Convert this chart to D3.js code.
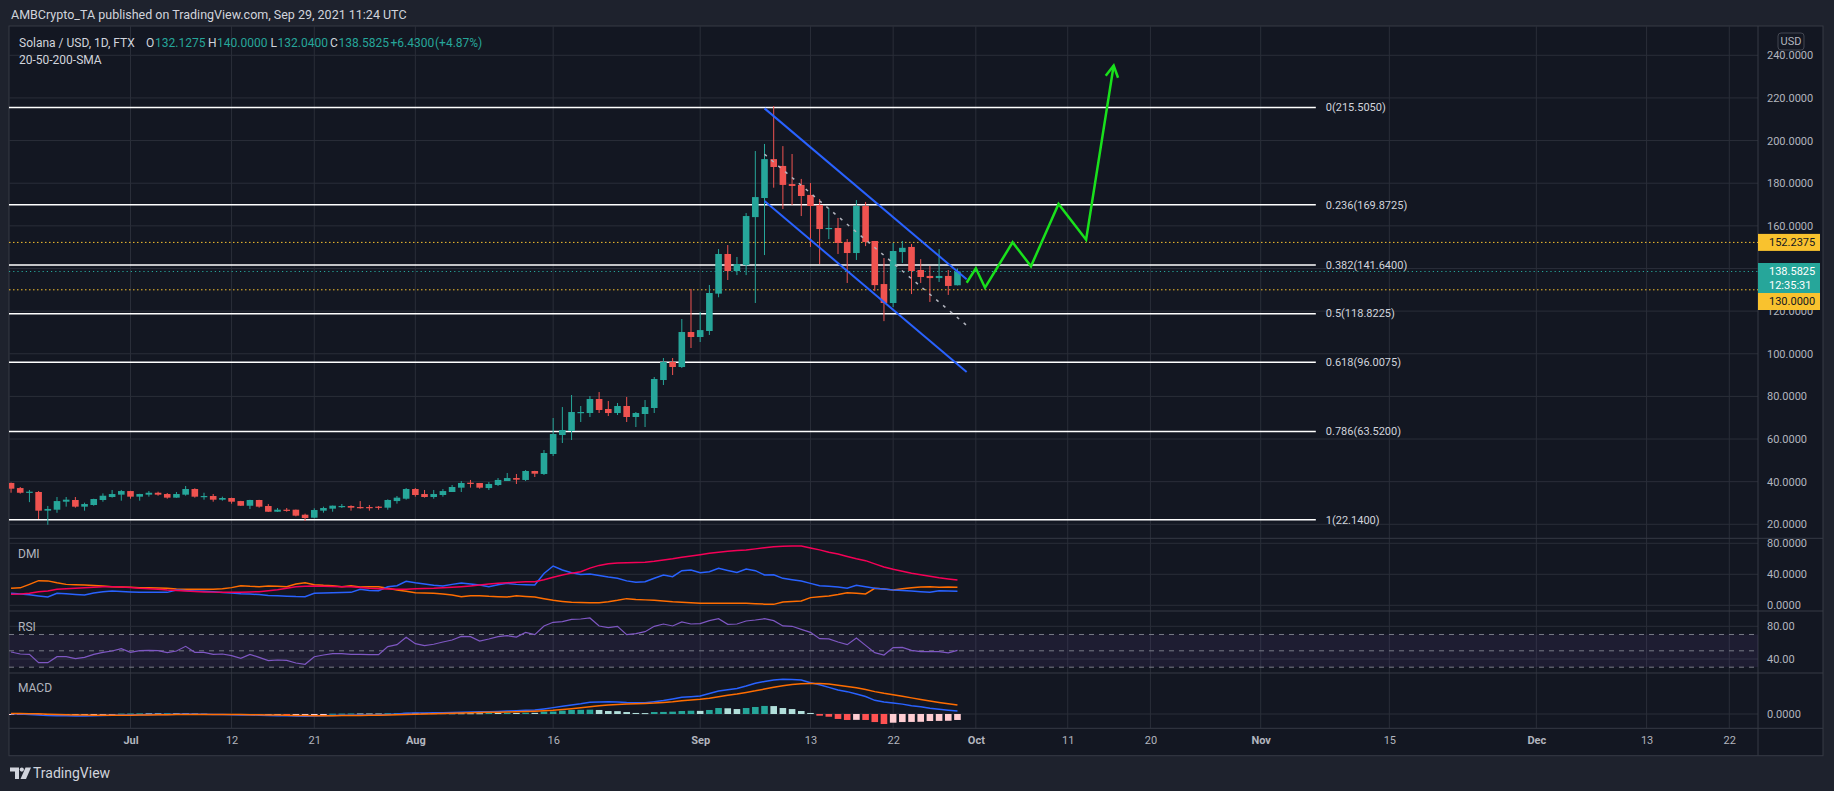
<!DOCTYPE html>
<html><head><meta charset="utf-8">
<script src="https://cdn.jsdelivr.net/npm/d3@7"></script>
<style>
html,body{margin:0;padding:0;background:#1e222d;overflow:hidden}
svg{display:block}
text{font-family:Roboto,"Liberation Sans",Arial,sans-serif}
</style></head><body>
<svg id="c" width="1834" height="791"></svg>
<script>
// ---------------- DATA ----------------
const firstDay = "2021-06-18";
const lastDay = "2021-09-29";
const open = [39.4,37.0,34.8,35.15,26.4,26.85,30.6,31.4,28.27,29.05,31.4,32.8,33.9,35.6,32.96,33.9,34.8,34.2,32.5,33.9,36.55,32.96,33.27,31.55,32.33,30.9,28.7,31.4,28.58,25.9,26.85,26.85,24.5,23.1,26.4,27.33,28.27,28.58,28.1,28.1,28.27,27.8,30.9,32.0,36.55,34.2,32.8,33.74,35.15,37.18,39.5,39.37,37.0,38.43,40.3,41.7,40.8,45.0,43.6,52.97,61.88,63.76,72.2,72.2,78.77,74.08,72.2,75.49,70.33,71.74,74.55,87.68,96.13,93.78,110.2,107.85,110.67,128.2,146.8,138.8,141.6,164.1,173.05,191.3,188.1,179.6,179.2,174.5,169.8,158.5,159.0,152.4,147.25,169.3,152.9,132.7,123.8,147.7,150.1,139.3,136.5,135.5,136.5,132.1275];
const high = [39.6,37.5,36.1,35.6,28.6,32.8,32.8,32.8,30.14,32.0,34.5,36.1,36.1,35.7,34.3,35.6,35.3,34.67,35.15,37.96,36.9,34.8,34.2,32.96,32.5,31.0,31.5,31.5,29.5,27.64,27.64,26.9,25.0,27.5,28.27,28.8,29.5,28.9,30.9,29.05,28.58,31.7,33.27,37.0,37.0,36.1,36.1,36.55,38.43,40.3,40.8,39.4,39.83,41.7,44.06,43.6,45.47,45.1,54.85,69.86,75.0,80.65,75.49,80.18,82.05,77.83,76.9,79.71,72.67,78.3,89.09,98.0,98.0,116.3,130.4,119.6,132.25,149.1,151.0,145.4,166.0,195.1,198.4,216.2,197.4,193.7,182.0,180.1,172.6,168.4,163.7,153.8,172.1,171.2,152.9,144.9,151.95,152.9,151.5,144.4,141.2,149.1,139.3,140.0];
const low = [34.8,34.4,30.4,22.5,19.8,25.4,28.27,27.8,26.4,28.7,30.6,32.5,31.08,32.0,31.08,32.96,33.4,32.0,32.4,33.43,32.5,31.55,30.6,31.08,29.67,28.6,27.17,27.8,25.8,25.8,25.9,23.73,21.54,22.8,25.45,25.9,27.64,26.4,27.33,26.4,26.85,26.85,29.67,31.55,32.96,32.5,32.0,32.96,35.15,35.15,37.2,36.7,36.1,37.96,40.3,38.9,40.3,42.18,43.12,52.03,58.13,59.54,67.98,70.33,72.2,70.8,71.26,67.98,65.64,65.64,72.2,85.34,90.03,93.3,102.7,105.5,108.8,126.5,134.6,136.9,136.9,123.8,146.3,177.9,167.9,169.8,164.6,150.1,142.1,153.8,146.8,133.2,144.0,150.5,129.4,115.3,121.9,142.6,128.0,133.2,124.3,133.65,127.6,132.04];
const close = [36.7,34.8,35.3,26.4,27.2,30.9,31.55,28.27,29.5,31.86,33.4,34.2,35.6,32.96,34.2,34.8,33.9,32.5,34.2,36.55,32.96,33.27,31.55,32.33,30.6,28.7,31.4,28.27,25.9,26.85,26.4,24.05,22.95,26.7,27.64,28.74,28.58,27.8,27.8,27.8,27.8,31.4,32.5,36.55,33.74,32.8,34.2,35.6,37.5,39.37,39.2,37.18,38.9,40.8,41.7,40.93,45.0,43.74,53.44,62.35,64.23,72.67,72.67,78.77,73.61,72.2,75.49,70.33,72.2,75.02,88.15,96.13,93.78,110.2,107.85,111.1,128.5,146.8,138.8,142.1,164.6,173.5,191.3,187.6,179.2,178.7,174.0,169.3,158.5,159.0,151.95,147.25,169.3,152.4,132.2,123.8,148.2,149.7,138.8,136.0,135.5,136.5,131.8,138.5825];

const plusDI = [15.5,14.6,13.5,12.0,10.7,15.5,14.8,14.0,13.3,16.0,17.5,18.4,17.8,17.2,16.7,16.7,16.7,16.7,19.8,19.0,18.5,18.0,17.6,16.5,15.8,15.0,14.6,13.8,12.8,12.2,11.8,11.3,11.1,15.5,15.8,16.3,16.5,16.7,20.6,19.0,18.9,24.0,25.3,30.9,29.0,27.5,25.8,24.9,27.0,28.8,27.5,26.2,24.0,26.5,28.3,27.0,26.5,26.2,41.0,50.7,45.5,42.0,39.9,40.4,38.5,36.5,34.8,31.5,29.6,30.5,35.0,39.1,36.9,44.7,45.5,42.1,43.4,47.7,45.0,42.5,46.8,44.7,39.1,39.5,34.8,33.0,31.4,28.3,25.3,24.5,23.5,21.9,25.8,24.0,22.0,21.0,19.8,19.0,18.4,17.5,16.7,18.9,18.5,18.0];
const minusDI = [21.9,22.5,27.0,31.8,31.5,29.0,27.0,26.6,26.2,25.5,24.8,24.0,23.6,23.2,22.8,22.5,22.2,21.9,21.0,20.6,20.6,20.6,20.6,21.5,22.8,25.3,24.5,24.0,24.9,24.5,24.0,27.5,29.2,26.6,25.8,25.3,24.0,25.3,23.6,24.0,24.0,22.0,19.8,18.0,16.3,15.9,15.5,14.5,13.3,11.1,12.4,12.4,11.6,11.1,10.7,12.4,11.5,10.7,8.5,6.4,5.0,3.8,3.6,3.4,3.4,4.7,6.5,8.6,7.5,7.0,6.4,5.5,4.5,3.8,3.2,2.8,2.5,2.5,2.5,2.5,2.5,2.0,1.5,1.2,4.3,4.8,5.5,9.9,11.1,12.0,14.0,16.3,15.5,14.6,21.9,21.0,19.8,21.5,22.8,23.5,24.0,23.2,23.5,23.2];
const adx = [14.2,14.5,15.5,17.6,18.5,20.6,21.3,22.0,22.8,23.3,23.8,24.0,23.5,23.0,21.9,21.3,20.8,19.8,19.2,18.5,17.8,17.3,17.0,16.8,16.7,16.9,17.2,17.6,18.8,20.0,22.0,24.0,24.5,24.9,24.6,24.3,24.0,24.0,23.0,21.9,21.5,21.0,20.6,20.8,21.2,21.6,21.9,22.5,23.2,24.0,25.0,26.2,27.5,28.5,29.2,29.8,30.3,30.5,33.0,36.1,39.0,41.5,43.4,48.0,51.5,53.5,54.6,55.0,55.3,55.5,56.8,58.5,60.0,61.9,63.5,65.3,67.1,68.5,69.6,70.6,71.4,72.8,74.3,75.7,76.2,76.5,76.5,74.0,71.5,68.5,66.2,63.0,60.0,57.6,53.5,49.5,46.4,44.0,41.3,39.5,37.5,35.5,34.0,32.6];
const rsi = [48.6,46.1,45.7,35.5,35.5,42.8,42.8,40.4,42.0,45.7,48.2,49.8,52.7,48.2,50.2,50.6,50.2,47.7,49.8,55.5,48.2,48.2,45.7,46.1,44.1,40.8,45.7,42.0,38.0,38.8,38.4,35.1,33.5,42.8,44.9,46.5,46.5,45.7,45.7,45.3,45.3,55.1,57.5,66.5,58.8,56.3,58.0,60.8,63.2,67.7,67.3,62.0,64.5,67.3,68.5,66.9,72.6,69.8,80.4,84.9,85.7,88.5,88.9,90.2,80.4,78.3,80.0,69.8,71.0,73.4,80.0,82.8,80.4,85.3,82.8,83.2,86.9,89.3,82.4,82.8,86.5,87.7,89.3,86.9,80.4,80.0,76.3,72.6,64.9,64.5,60.8,57.5,65.7,56.7,47.7,44.9,53.9,54.3,50.6,49.0,49.0,49.0,47.4,50.6];
const macd = [0.2,0.0,-0.3,-0.8,-1.2,-1.3,-1.4,-1.5,-1.5,-1.4,-1.2,-1.0,-0.7,-0.6,-0.5,-0.4,-0.3,-0.3,-0.2,0.0,-0.1,-0.2,-0.3,-0.4,-0.5,-0.7,-0.8,-0.9,-1.1,-1.3,-1.4,-1.6,-1.8,-1.6,-1.4,-1.2,-1.0,-0.9,-0.8,-0.7,-0.6,-0.3,0.0,0.5,0.7,0.8,0.9,1.0,1.1,1.3,1.5,1.7,1.8,2.0,2.3,2.5,2.8,3.0,3.9,4.9,5.9,6.9,7.8,9.0,9.3,9.5,9.3,8.8,8.7,8.7,9.5,10.3,11.5,12.8,13.3,13.8,15.8,17.7,18.7,19.7,21.5,23.6,25.0,26.2,26.7,26.6,26.2,24.1,22.5,20.5,18.5,17.2,15.4,13.5,10.5,9.3,8.5,7.6,6.4,5.6,4.4,3.6,2.9,2.3];
const signal = [0.3,0.3,0.2,0.1,-0.1,-0.3,-0.5,-0.7,-0.8,-0.9,-1.0,-1.0,-0.9,-0.9,-0.8,-0.7,-0.6,-0.5,-0.4,-0.3,-0.3,-0.3,-0.3,-0.3,-0.3,-0.4,-0.5,-0.6,-0.7,-0.8,-0.9,-1.1,-1.2,-1.3,-1.3,-1.3,-1.2,-1.2,-1.1,-1.0,-0.9,-0.8,-0.6,-0.4,-0.2,0.0,0.2,0.3,0.5,0.7,0.9,1.1,1.3,1.4,1.6,1.8,2.0,2.2,2.5,2.8,3.4,4.1,4.8,5.6,6.3,6.9,7.4,7.7,7.9,8.1,8.4,8.9,9.4,10.1,10.7,11.3,12.2,13.3,14.4,15.4,16.6,17.8,19.2,20.6,21.8,22.7,23.2,23.4,23.5,23.0,22.2,21.2,20.2,18.9,17.2,15.9,14.8,13.6,12.4,11.2,10.0,8.9,7.9,6.9];
const hist = [-0.3,-0.4,-0.5,-0.6,-0.6,-0.6,-0.5,-0.5,-0.4,-0.4,-0.3,-0.2,0.3,0.4,0.5,0.5,0.5,0.6,0.6,0.6,0.4,0.2,-0.1,-0.2,-0.3,-0.4,-0.4,-0.5,-0.5,-0.5,-0.6,-0.6,-0.6,-0.4,-0.2,0.2,0.3,0.4,0.4,0.4,0.4,0.6,0.7,0.9,0.9,0.8,0.7,0.7,0.6,0.6,0.6,0.6,0.8,0.8,1.0,0.8,1.0,0.9,1.8,1.9,2.6,3.1,3.2,3.3,3.1,2.3,2.2,1.5,0.8,0.7,1.5,1.6,1.8,2.3,2.5,2.4,3.1,4.6,4.4,3.8,4.6,5.4,6.2,6.1,4.6,3.8,2.3,0.8,-1.3,-2.1,-3.8,-4.6,-4.5,-4.6,-6.2,-7.7,-6.7,-6.2,-6.1,-6.0,-5.4,-5.3,-5.2,-4.6];

const fibRatios = ["0","0.236","0.382","0.5","0.618","0.786","1"];
const fibValues = [215.505,169.8725,141.64,118.8225,96.0075,63.52,22.14];
const fibEnd = "2021-11-07";
const channelDates = ["2021-09-08","2021-09-30"];
const channelUpper = [215.1,134.9];
const channelLower = [171.7,91.4];
const channelMid = [193.6,113.3];
const projDates = ["2021-09-30","2021-10-01","2021-10-02","2021-10-05","2021-10-07","2021-10-10","2021-10-13","2021-10-16"];
const projValues = [133.3,140.1,131.0,152.3,141.0,170.3,153.5,235.2];
const levelHigh = 152.2375, levelLow = 130.0, lastPrice = 138.5825;
const priceTicks = [20,40,60,80,100,120,140,160,180,200,220,240];
const dmiTicks = [0,40,80];
const rsiTicks = [40,80];
const rsiBands = [70,50,30];
const macdTicks = [0];
const timeTicks = ["2021-07-01","2021-07-12","2021-07-21","2021-08-01","2021-08-16","2021-09-01","2021-09-13","2021-09-22","2021-10-01","2021-10-11","2021-10-20","2021-11-01","2021-11-15","2021-12-01","2021-12-13","2021-12-22"];

// ---------------- SETUP ----------------
const P = s => new Date(s + "T00:00:00Z");
const days = d3.utcDay.range(P(firstDay), d3.utcDay.offset(P(lastDay), 1));
const svg = d3.select("#c");
const W = 1834, H = 791;
const L = 9, R = 1758, RR = 1823, TOP = 26;
const paneP = [TOP, 538.3], paneD = [538.3, 611], paneR = [611, 673], paneM = [673, 728.3], axisT = [728.3, 755.7];

const x = d3.scaleUtc().domain([P("2021-07-01"), P("2021-12-22")]).range([130.5, 1729.3]);
const yP = d3.scaleLinear().domain([20, 240]).range([524.3, 55.3]);
const yD = d3.scaleLinear().domain([0, 80]).range([605.3, 543.3]);
const yR = d3.scaleLinear().domain([40, 80]).range([659, 626.3]);
const yM = d3.scaleLinear().domain([0, 10]).range([714, 701]);

const GRID = "#2a2e39", SEP = "#363a45", TXT = "#b2b5be", UP = "#26a69a", DN = "#ef5350";

svg.append("rect").attr("width", W).attr("height", H).attr("fill", "#1e222d");
svg.append("rect").attr("x", L).attr("y", TOP).attr("width", RR - L).attr("height", axisT[1] - TOP)
  .attr("fill", "#131722").attr("stroke", SEP).attr("stroke-width", 1);

const defs = svg.append("defs");
function clip(id, y0, y1) {
  defs.append("clipPath").attr("id", id).append("rect").attr("x", L).attr("y", y0).attr("width", R - L).attr("height", y1 - y0);
  return svg.append("g").attr("clip-path", `url(#${id})`);
}

// vertical grid
const gv = svg.append("g");
timeTicks.forEach(t => {
  gv.append("line").attr("x1", x(P(t))).attr("x2", x(P(t))).attr("y1", TOP).attr("y2", axisT[0]).attr("stroke", GRID);
});

// horizontal grids
function hgrid(scale, ticks) {
  ticks.forEach(v => svg.append("line").attr("x1", L).attr("x2", R).attr("y1", scale(v)).attr("y2", scale(v)).attr("stroke", GRID));
}
hgrid(yP, priceTicks); hgrid(yD, dmiTicks); hgrid(yR, rsiTicks); hgrid(yM, macdTicks);

// pane separators
[paneP[1], paneD[1], paneR[1], paneM[1]].forEach(y => svg.append("line").attr("x1", L).attr("x2", RR).attr("y1", y).attr("y2", y).attr("stroke", SEP));
svg.append("line").attr("x1", R).attr("x2", R).attr("y1", TOP).attr("y2", axisT[1]).attr("stroke", SEP);

// ---------------- PRICE PANE ----------------
const gp = clip("cp", paneP[0], paneP[1]);
// fib lines
fibValues.forEach((v, i) => {
  gp.append("line").attr("x1", L).attr("x2", x(P(fibEnd))).attr("y1", yP(v)).attr("y2", yP(v)).attr("stroke", "#ffffff").attr("stroke-width", 1.5);
  gp.append("text").attr("x", x(P(fibEnd)) + 10).attr("y", yP(v)).attr("dy", "0.35em").attr("fill", "#d1d4dc").attr("font-size", 11)
    .text(`${fibRatios[i]}(${v.toFixed(4)})`);
});
// dotted levels
[[levelHigh, "#f9c22e", "1.5,2.5"], [levelLow, "#f9c22e", "1.5,2.5"], [lastPrice, UP, "1.2,3"]].forEach(([v, c, da]) => {
  gp.append("line").attr("x1", L).attr("x2", R).attr("y1", yP(v)).attr("y2", yP(v)).attr("stroke", c).attr("stroke-width", 1).attr("stroke-dasharray", da);
});
// candles
const cw = 6.6;
const cg = gp.append("g");
days.forEach((d, i) => {
  const col = close[i] >= open[i] ? UP : DN;
  const cx = x(d);
  cg.append("line").attr("x1", cx).attr("x2", cx).attr("y1", yP(high[i])).attr("y2", yP(low[i])).attr("stroke", col).attr("stroke-width", 1);
  const y1 = yP(Math.max(open[i], close[i])), y2 = yP(Math.min(open[i], close[i]));
  cg.append("rect").attr("x", cx - cw / 2).attr("y", y1).attr("width", cw).attr("height", Math.max(1.2, y2 - y1)).attr("fill", col);
});
// channel
const lineP = d3.line().x(d => x(P(d[0]))).y(d => yP(d[1]));
gp.append("path").attr("d", lineP(channelDates.map((d, i) => [d, channelUpper[i]]))).attr("stroke", "#2962ff").attr("stroke-width", 2).attr("fill", "none");
gp.append("path").attr("d", lineP(channelDates.map((d, i) => [d, channelLower[i]]))).attr("stroke", "#2962ff").attr("stroke-width", 2).attr("fill", "none");
gp.append("path").attr("d", lineP(channelDates.map((d, i) => [d, channelMid[i]]))).attr("stroke", "#b2b5be").attr("stroke-width", 1.5).attr("stroke-dasharray", "3,6").attr("fill", "none");
// projection
const GREEN = "#19e01c";
const proj = projDates.map((d, i) => [d, projValues[i]]);
gp.append("path").attr("d", lineP(proj)).attr("stroke", GREEN).attr("stroke-width", 2.5).attr("fill", "none").attr("stroke-linejoin", "miter");
{
  const a = proj[proj.length - 2], b = proj[proj.length - 1];
  const ax = x(P(a[0])), ay = yP(a[1]), bx = x(P(b[0])), by = yP(b[1]);
  const ang = Math.atan2(ay - by, ax - bx);
  const len = 13, spread = 0.5;
  const pts = [[bx + len * Math.cos(ang + spread), by + len * Math.sin(ang + spread)], [bx, by], [bx + len * Math.cos(ang - spread), by + len * Math.sin(ang - spread)]];
  gp.append("path").attr("d", d3.line()(pts)).attr("stroke", GREEN).attr("stroke-width", 2.5).attr("fill", "none");
}

// ---------------- DMI ----------------
const gd = clip("cd", paneD[0], paneD[1]);
const lineOf = (scale) => d3.line().x((v, i) => x(days[i])).y(v => scale(v));
gd.append("path").attr("d", lineOf(yD)(minusDI)).attr("stroke", "#ff6d00").attr("stroke-width", 1.5).attr("fill", "none");
gd.append("path").attr("d", lineOf(yD)(plusDI)).attr("stroke", "#2962ff").attr("stroke-width", 1.5).attr("fill", "none");
gd.append("path").attr("d", lineOf(yD)(adx)).attr("stroke", "#f50057").attr("stroke-width", 1.5).attr("fill", "none");

// ---------------- RSI ----------------
const gr = clip("cr", paneR[0], paneR[1]);
gr.append("rect").attr("x", L).attr("width", R - L).attr("y", yR(70)).attr("height", yR(30) - yR(70)).attr("fill", "rgba(126,87,194,0.1)");
rsiBands.forEach(v => gr.append("line").attr("x1", L).attr("x2", R).attr("y1", yR(v)).attr("y2", yR(v)).attr("stroke", "#787b86").attr("stroke-dasharray", "5,5"));
gr.append("path").attr("d", lineOf(yR)(rsi)).attr("stroke", "#7e57c2").attr("stroke-width", 1.2).attr("fill", "none");

// ---------------- MACD ----------------
const gm = clip("cm", paneM[0], paneM[1]);
hist.forEach((v, i) => {
  const prev = i > 0 ? hist[i - 1] : v;
  let col;
  if (v >= 0) col = v > prev ? "#26a69a" : "#b2dfdb";
  else col = v < prev ? "#ff5252" : "#ffcdd2";
  const y0 = yM(0), y1 = yM(v);
  gm.append("rect").attr("x", x(days[i]) - 3.3).attr("width", 6.6).attr("y", Math.min(y0, y1)).attr("height", Math.max(1, Math.abs(y1 - y0))).attr("fill", col);
});
gm.append("path").attr("d", lineOf(yM)(macd)).attr("stroke", "#2962ff").attr("stroke-width", 1.5).attr("fill", "none");
gm.append("path").attr("d", lineOf(yM)(signal)).attr("stroke", "#ff6d00").attr("stroke-width", 1.5).attr("fill", "none");

// ---------------- AXES ----------------
function rightAxis(scale, ticks, fmt) {
  const g = svg.append("g").attr("transform", `translate(${R},0)`)
    .call(d3.axisRight(scale).tickValues(ticks).tickFormat(fmt).tickSize(0).tickPadding(9));
  g.select(".domain").remove();
  g.selectAll("text").attr("fill", TXT).attr("font-size", 11).attr("font-family", "Roboto,'Liberation Sans',Arial,sans-serif");
}
rightAxis(yP, priceTicks, d3.format(".4f"));
rightAxis(yD, dmiTicks, d3.format(".4f"));
rightAxis(yR, rsiTicks, d3.format(".2f"));
rightAxis(yM, macdTicks, d3.format(".4f"));

const ta = svg.append("g").attr("transform", `translate(0,${axisT[0]})`)
  .call(d3.axisBottom(x).tickValues(timeTicks.map(P)).tickSize(0).tickPadding(8)
    .tickFormat(d => d.getUTCDate() === 1 ? d3.utcFormat("%b")(d) : d3.utcFormat("%-d")(d)));
ta.select(".domain").remove();
ta.selectAll("text").attr("fill", TXT).attr("font-size", 11).attr("font-family", "Roboto,'Liberation Sans',Arial,sans-serif")
  .attr("font-weight", d => d.getUTCDate() === 1 ? "bold" : "normal");

// price label boxes
function box(v, y0, h, bg, fg, lines) {
  svg.append("rect").attr("x", R).attr("y", y0).attr("width", 62).attr("height", h).attr("fill", bg);
  lines.forEach((t, k) => svg.append("text").attr("x", 1769).attr("y", y0 + 8.5 + k * 14).attr("dy", "0.35em")
    .attr("fill", fg).attr("font-size", 11).text(t));
}
box(levelHigh, yP(levelHigh) - 8.5, 17, "#f9c22e", "#131722", [levelHigh.toFixed(4)]);
box(lastPrice, yP(lastPrice) - 8.5, 30, UP, "#ffffff", [lastPrice.toFixed(4), "12:35:31"]);
box(levelLow, yP(lastPrice) + 21.5, 17, "#f9c22e", "#131722", [levelLow.toFixed(4)]);

// USD badge
svg.append("rect").attr("x", 1778).attr("y", 33).attr("width", 26).attr("height", 17).attr("rx", 3).attr("fill", "#131722").attr("stroke", "#434651");
svg.append("text").attr("x", 1791).attr("y", 41.5).attr("dy", "0.35em").attr("text-anchor", "middle").attr("fill", TXT).attr("font-size", 11).text("USD");

// ---------------- TEXTS ----------------
svg.append("text").attr("x", 11).attr("y", 15).attr("dy", "0.35em").attr("fill", "#d1d4dc").attr("font-size", 12.5)
  .text("AMBCrypto_TA published on TradingView.com, Sep 29, 2021 11:24 UTC");

const legend = [["Solana / USD, 1D, FTX", 19, "#d1d4dc"], ["O", 146, "#d1d4dc"], ["132.1275", 155, UP], ["H", 208, "#d1d4dc"], ["140.0000", 217, UP],
  ["L", 270.5, "#d1d4dc"], ["132.0400", 277.5, UP], ["C", 330, "#d1d4dc"], ["138.5825", 338.5, UP], ["+6.4300", 390.5, UP], ["(+4.87%)", 435, UP]];
legend.forEach(([t, lx, c]) => svg.append("text").attr("x", lx).attr("y", 42.3).attr("dy", "0.35em").attr("fill", c).attr("font-size", 12).text(t));
svg.append("text").attr("x", 19).attr("y", 59.3).attr("dy", "0.35em").attr("fill", "#d1d4dc").attr("font-size", 12).text("20-50-200-SMA");

[["DMI", 554], ["RSI", 626.7], ["MACD", 688]].forEach(([t, yy]) => svg.append("text").attr("x", 18).attr("y", yy).attr("dy", "0.35em").attr("fill", TXT).attr("font-size", 12).text(t));

// footer logo
const lg = svg.append("g").attr("fill", "#d1d4dc");
lg.append("path").attr("d", "M10,767.5 H19 V779 H15 V771.5 H10 Z");
lg.append("circle").attr("cx", 21.8).attr("cy", 769.6).attr("r", 2.1);
lg.append("path").attr("d", "M25.5,767.5 H31 L26,779 H20.5 Z");
svg.append("text").attr("x", 33).attr("y", 773).attr("dy", "0.35em").attr("fill", "#d1d4dc").attr("font-size", 14).text("TradingView");
</script>
</body></html>
